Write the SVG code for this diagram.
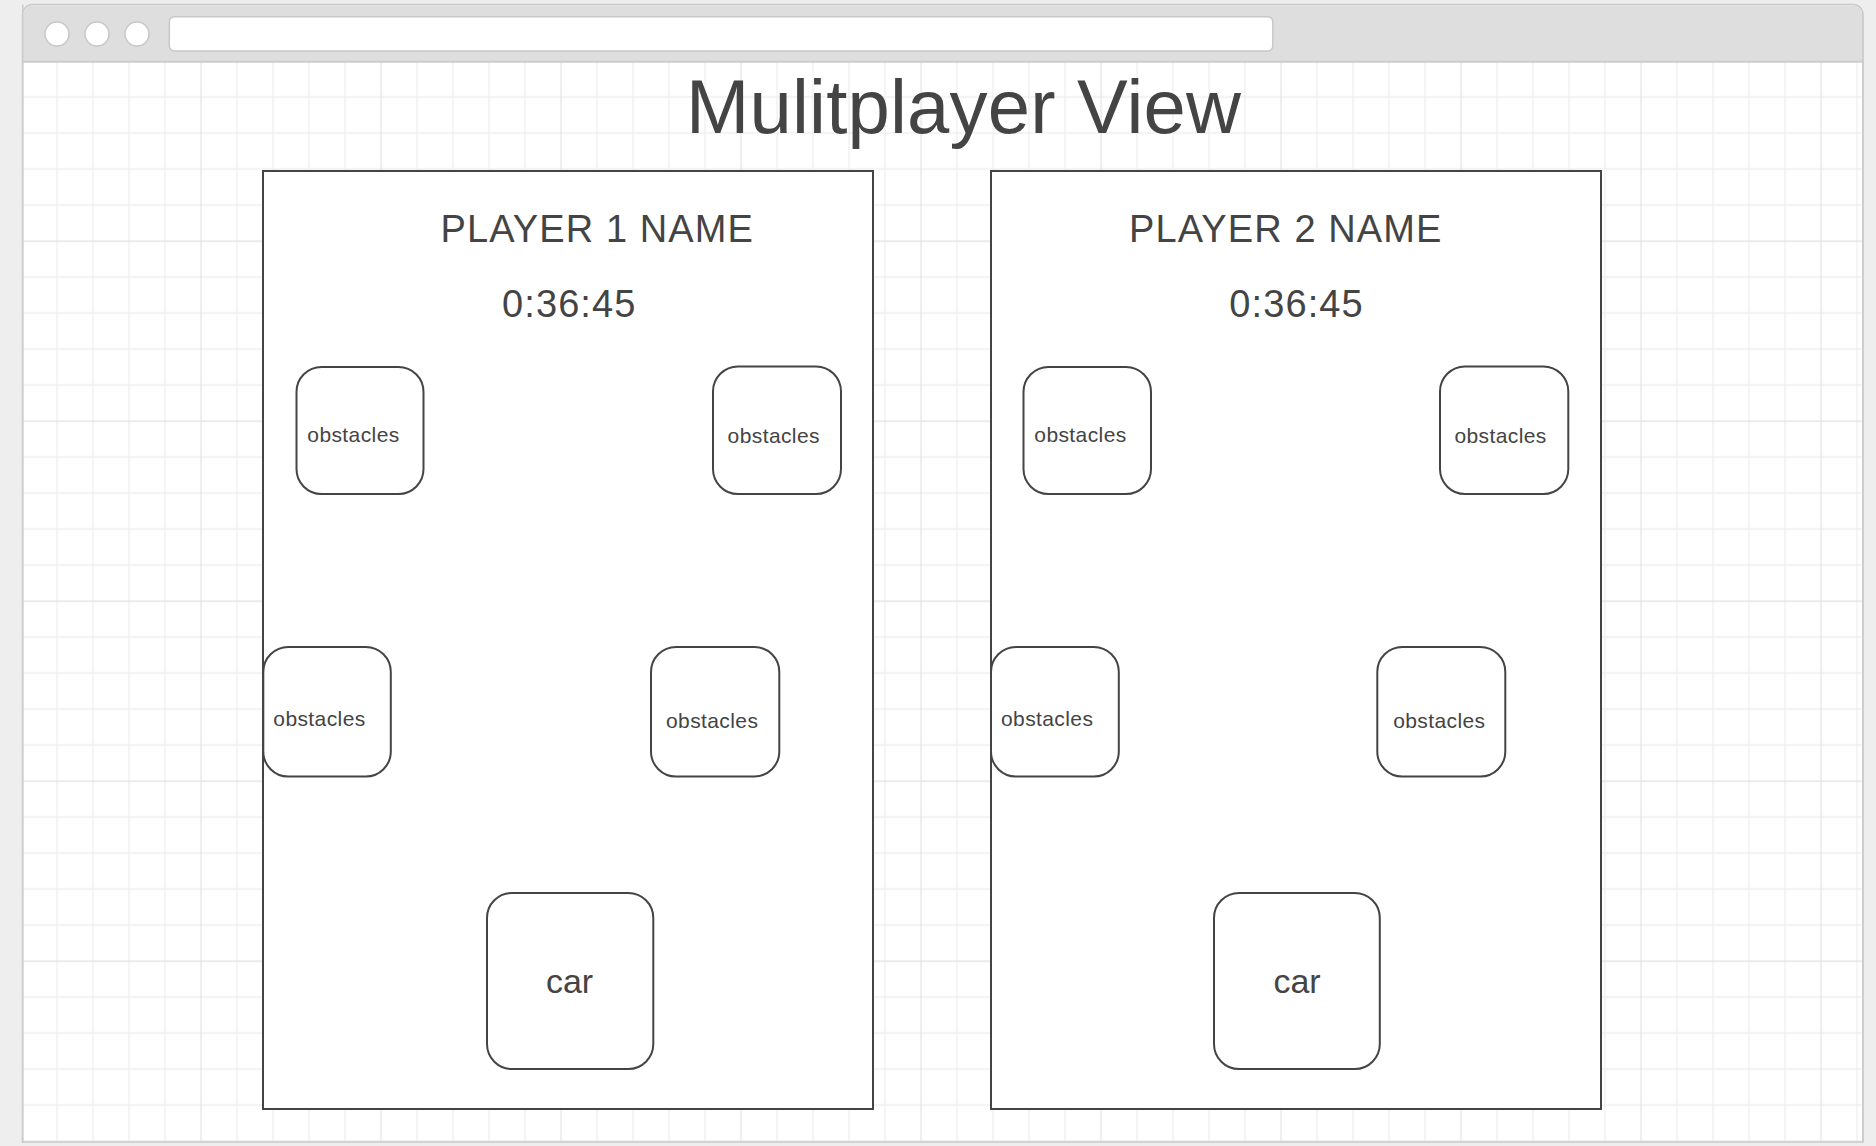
<svg xmlns="http://www.w3.org/2000/svg" width="1876" height="1146" viewBox="0 0 1876 1146">
  <style>
    .txt { font-family: "Liberation Sans", Arial, sans-serif; fill: #444444; }
    .panel { fill: #ffffff; stroke: #444444; stroke-width: 2; }
    .node { fill: #ffffff; stroke: #444444; stroke-width: 2; }
    .title { font-size: 76px; letter-spacing: 0.2px; }
    .name { font-size: 38px; letter-spacing: 1.1px; }
    .clock { font-size: 38px; letter-spacing: 1.1px; }
    .obs { font-size: 21px; letter-spacing: 0.4px; }
    .car { font-size: 34px; }
    .chrome { stroke: #c8c8c8; stroke-width: 1.5; }
  </style>
  <defs>
    <pattern id="grid" patternUnits="userSpaceOnUse" x="20.5" y="60.5" width="180" height="180">
      <path d="M36.5 0V180M72.5 0V180M108.5 0V180M144.5 0V180M0 36.5H180M0 72.5H180M0 108.5H180M0 144.5H180" stroke="#ededed" stroke-width="1.3" fill="none"/>
      <path d="M0.5 0V180M0 0.5H180" stroke="#e0e0e0" stroke-width="1.3" fill="none"/>
    </pattern>
  </defs>

  <!-- page background -->
  <rect x="0" y="0" width="1876" height="1146" fill="#eeeeee"/>

  <!-- browser window -->
  <g id="browser">
    <path d="M22.5 1142V14.5a10 10 0 0 1 10-10H1853a10 10 0 0 1 10 10V1142Z" fill="#ffffff" class="chrome"/>
    <path d="M23.3 62V14.5a9.2 9.2 0 0 1 9.2-9.2H1853a9.2 9.2 0 0 1 9.2 9.2V62Z" fill="#dedede"/>
    <rect x="23.3" y="62" width="1839" height="1079" fill="url(#grid)"/>
    <line x1="23" y1="61.8" x2="1863" y2="61.8" stroke="#cccccc" stroke-width="2"/>
    <line x1="22.8" y1="4.5" x2="22.8" y2="1142" stroke="#cccccc" stroke-width="1.5"/>
    <line x1="1862.8" y1="14" x2="1862.8" y2="1142" stroke="#cccccc" stroke-width="1.5"/>
    <circle cx="57" cy="34" r="12" fill="#ffffff" class="chrome"/>
    <circle cx="97" cy="34" r="12" fill="#ffffff" class="chrome"/>
    <circle cx="137" cy="34" r="12" fill="#ffffff" class="chrome"/>
    <rect x="169.3" y="16.8" width="1103.5" height="34.2" rx="5" fill="#ffffff" class="chrome"/>
  </g>

  <g id="title">
    <text class="txt title" x="686" y="132.7">Mulitplayer View</text>
  </g>

  <!-- Player 1 panel -->
  <g id="panel1">
    <rect class="panel" x="263" y="171" width="610" height="938"/>
    <text class="txt name" x="440.5" y="242.3">PLAYER 1 NAME</text>
    <text class="txt clock" x="502" y="317">0:36:45</text>
  </g>
  <g id="p1-obstacle-tl">
    <rect class="node" x="296.5" y="367" width="127" height="127" rx="25"/>
    <text class="txt obs" x="307.3" y="441.7">obstacles</text>
  </g>
  <g id="p1-obstacle-tr">
    <rect class="node" x="713" y="366.5" width="128" height="127.5" rx="25"/>
    <text class="txt obs" x="727.6" y="442.7">obstacles</text>
  </g>
  <g id="p1-obstacle-ml">
    <rect class="node" x="263.3" y="647" width="127.5" height="129.5" rx="25"/>
    <text class="txt obs" x="273.3" y="726">obstacles</text>
  </g>
  <g id="p1-obstacle-mr">
    <rect class="node" x="651" y="647" width="128.3" height="129.5" rx="25"/>
    <text class="txt obs" x="666" y="728.3">obstacles</text>
  </g>
  <g id="p1-car">
    <rect class="node" x="487" y="893" width="166.3" height="176" rx="25"/>
    <text class="txt car" x="569.5" y="992.7" text-anchor="middle">car</text>
  </g>

  <!-- Player 2 panel -->
  <g id="panel2">
    <rect class="panel" x="991" y="171" width="610" height="938"/>
    <text class="txt name" x="1129" y="242.3">PLAYER 2 NAME</text>
    <text class="txt clock" x="1229.3" y="317">0:36:45</text>
  </g>
  <g id="p2-obstacle-tl">
    <rect class="node" x="1023.5" y="367" width="127.5" height="127" rx="25"/>
    <text class="txt obs" x="1034.3" y="441.7">obstacles</text>
  </g>
  <g id="p2-obstacle-tr">
    <rect class="node" x="1440" y="366.5" width="128.3" height="127.5" rx="25"/>
    <text class="txt obs" x="1454.4" y="442.7">obstacles</text>
  </g>
  <g id="p2-obstacle-ml">
    <rect class="node" x="991" y="647" width="127.8" height="129.5" rx="25"/>
    <text class="txt obs" x="1001" y="726">obstacles</text>
  </g>
  <g id="p2-obstacle-mr">
    <rect class="node" x="1377.3" y="647" width="128" height="129.5" rx="25"/>
    <text class="txt obs" x="1393.2" y="728.3">obstacles</text>
  </g>
  <g id="p2-car">
    <rect class="node" x="1214" y="893" width="165.8" height="176" rx="25"/>
    <text class="txt car" x="1297" y="992.7" text-anchor="middle">car</text>
  </g>

  <g id="connectors"/>
</svg>
